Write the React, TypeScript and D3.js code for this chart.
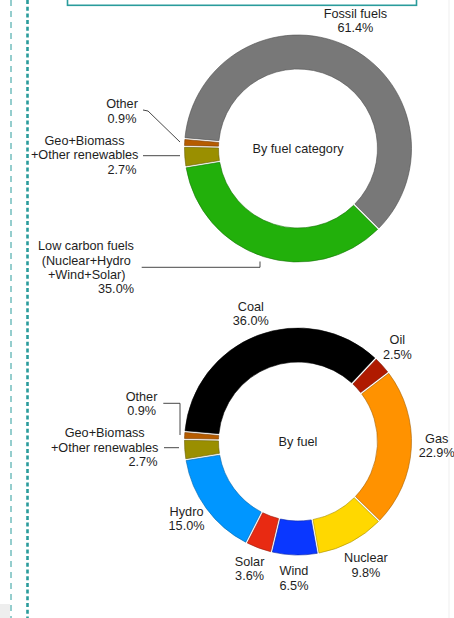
import React from "react";
import * as d3 from "d3";

// ---------- data ----------
const categoryNames = ["Fossil fuels", "Low carbon fuels", "Geo+Biomass", "Other"];
const categoryValues = [61.4, 35.0, 2.7, 0.9];
const categoryColors = ["#787878", "#22b00b", "#9a8f00", "#b65c00"];

const fuelNames = ["Coal", "Oil", "Gas", "Nuclear", "Wind", "Solar", "Hydro", "Geo+Biomass", "Other"];
const fuelValues = [36.0, 2.5, 22.9, 9.8, 6.5, 3.6, 15.0, 2.7, 0.9];
const fuelColors = ["#000000", "#b01a00", "#ff9200", "#ffd800", "#0a37ff", "#e82a12", "#0096ff", "#9a8f00", "#b65c00"];

// layout: distance of each outside label from the donut centre
const labelRadius: Record<string, number> = {
  "Fossil fuels": 136,
  Coal: 132,
  Oil: 134,
  Gas: 139,
  Nuclear: 145,
  Wind: 141,
  Solar: 140,
  Hydro: 138,
};

const W = 454;
const H = 618;
const CX = 298;
const CY_TOP = 148.5;
const CY_BOT = 441.5;
const R_OUT = 113.5;
const R_IN = 79.5;
const START = (-85 * Math.PI) / 180;
const FONT = "'Liberation Sans', Arial, Helvetica, sans-serif";
const FS = 12.7;
const LH = 14.4;
const TEAL = "#2a9c9c";
const TXT = "#1e1e1e";

type Slice = { name: string; value: number; color: string };

const pieGen = d3
  .pie<Slice>()
  .sort(null)
  .value((d) => d.value)
  .startAngle(START)
  .endAngle(START + 2 * Math.PI)
  .padAngle(0.013);

const arcGen = d3.arc<d3.PieArcDatum<Slice>>().innerRadius(R_IN).outerRadius(R_OUT);

function fmt(v: number) {
  return v.toFixed(1) + "%";
}

function Donut({
  cy,
  names,
  values,
  colors,
  center,
  auto,
}: {
  cy: number;
  names: string[];
  values: number[];
  colors: string[];
  center: string;
  auto: string[];
}) {
  const slices: Slice[] = names.map((n, i) => ({ name: n, value: values[i], color: colors[i] }));
  const arcs = pieGen(slices);
  return (
    <g transform={`translate(${CX},${cy})`}>
      {arcs.map((a, i) => (
        <path
          key={i}
          d={arcGen(a) || ""}
          fill={a.data.color}
          stroke={d3.color(a.data.color)!.darker(1.2).formatHex()}
          strokeWidth={0.6}
        />
      ))}
      {arcs
        .filter((a) => auto.includes(a.data.name))
        .map((a, i) => {
          const r = labelRadius[a.data.name];
          const [x, y] = d3.arc<d3.PieArcDatum<Slice>>().innerRadius(r).outerRadius(r).centroid(a);
          return (
            <text key={i} x={x} y={y} textAnchor="middle" fontFamily={FONT} fontSize={FS} fill={TXT}>
              <tspan x={x} dy={-LH / 2}>{a.data.name}</tspan>
              <tspan x={x} dy={LH}>{fmt(a.data.value)}</tspan>
            </text>
          );
        })}
      <text x={0} y={4.5} textAnchor="middle" fontFamily={FONT} fontSize={FS} fill={TXT}>
        {center}
      </text>
    </g>
  );
}

type Line = { t: string; x: number; y: number };
function Lines({ lines }: { lines: Line[] }) {
  return (
    <g fontFamily={FONT} fontSize={FS} fill={TXT}>
      {lines.map((l, i) => (
        <text key={i} x={l.x} y={l.y} textAnchor="middle">
          {l.t}
        </text>
      ))}
    </g>
  );
}

export default function App() {
  return (
    <svg
      width={W}
      height={H}
      viewBox={`0 0 ${W} ${H}`}
      style={{ position: "absolute", left: 0, top: 0, background: "#ffffff" }}
    >
      <rect x={0} y={0} width={W} height={H} fill="#ffffff" />
      {/* frame decorations */}
      <rect x={67.5} y={-20} width={349} height={25.3} fill="none" stroke={TEAL} strokeWidth={1.6} />
      <line x1={11} y1={0} x2={11} y2={H} stroke={TEAL} strokeWidth={1} strokeDasharray="6 5" />
      <line x1={27.5} y1={0} x2={27.5} y2={H} stroke={TEAL} strokeWidth={2.6} strokeDasharray="4 2.7" />
      <line x1={449} y1={0} x2={449} y2={H} stroke="#efefef" strokeWidth={1} />
      <rect x={0} y={604} width={10} height={14} fill="#eeeeee" />

      {/* top donut */}
      <Donut
        cy={CY_TOP}
        names={categoryNames}
        values={categoryValues}
        colors={categoryColors}
        center="By fuel category"
        auto={["Fossil fuels"]}
      />
      <Lines
        lines={[
          { t: "Other", x: 122, y: 108.3 },
          { t: fmt(categoryValues[3]), x: 122, y: 122.7 },
          { t: "Geo+Biomass", x: 84.5, y: 145 },
          { t: "+Other renewables", x: 84.7, y: 159.3 },
          { t: fmt(categoryValues[2]), x: 122, y: 173.5 },
          { t: "Low carbon fuels", x: 86, y: 250 },
          { t: "(Nuclear+Hydro", x: 86.3, y: 264.5 },
          { t: "+Wind+Solar)", x: 86.7, y: 278.8 },
          { t: fmt(categoryValues[1]), x: 116, y: 293 },
        ]}
      />
      <g fill="none" stroke="#333" strokeWidth={0.9}>
        <polyline points="143,110 148,111 180,142" />
        <line x1={143} y1={155.7} x2={180} y2={155.7} />
        <polyline points="141.7,267.3 260,267.3 260,261.5" />
      </g>

      {/* bottom donut */}
      <Donut
        cy={CY_BOT}
        names={fuelNames}
        values={fuelValues}
        colors={fuelColors}
        center="By fuel"
        auto={["Coal", "Oil", "Gas", "Nuclear", "Wind", "Solar", "Hydro"]}
      />
      <Lines
        lines={[
          { t: "Other", x: 141.5, y: 400.7 },
          { t: fmt(fuelValues[8]), x: 141.7, y: 415 },
          { t: "Geo+Biomass", x: 104.7, y: 437.3 },
          { t: "+Other renewables", x: 104.7, y: 451.7 },
          { t: fmt(fuelValues[7]), x: 143, y: 466 },
        ]}
      />
      <g fill="none" stroke="#333" strokeWidth={0.9}>
        <polyline points="163.3,403.3 180,403.3 180,435" />
        <line x1={164} y1={447.7} x2={179} y2={447.7} />
      </g>
    </svg>
  );
}
